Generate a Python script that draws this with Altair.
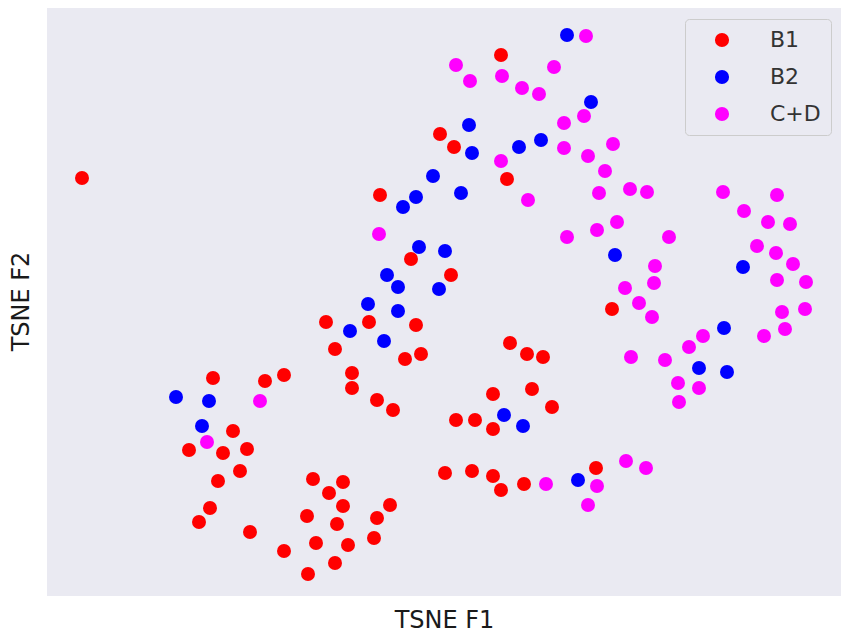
import altair as alt
import pandas as pd

# TSNE coordinates (arbitrary units)
b1_f1 = [82, 501, 440, 454, 380, 507, 411, 451, 326, 369, 416, 335, 405, 421, 510, 527, 543, 612,
         213, 265, 284, 352, 352, 377, 393, 493, 532, 552, 456, 475, 493, 233, 189, 223, 247, 240,
         218, 313, 343, 329, 343, 390, 210, 199, 307, 337, 377, 250, 316, 348, 374, 284, 335, 308,
         445, 472, 493, 501, 524, 596]
b1_f2 = [178, 55, 134, 147, 195, 179, 259, 275, 322, 322, 325, 349, 359, 354, 343, 354, 357, 309,
         378, 381, 375, 373, 388, 400, 410, 394, 389, 407, 420, 420, 429, 431, 450, 453, 449, 471,
         481, 479, 482, 493, 506, 505, 508, 522, 516, 524, 518, 532, 543, 545, 538, 551, 563, 574,
         473, 471, 476, 490, 484, 468]

b2_f1 = [567, 591, 469, 472, 519, 541, 433, 461, 416, 403, 419, 445, 387, 398, 439, 368, 398, 350,
         384, 615, 743, 724, 699, 727, 176, 209, 202, 504, 523, 578]
b2_f2 = [35, 102, 125, 153, 147, 140, 176, 193, 197, 207, 247, 251, 275, 287, 289, 304, 311, 331,
         341, 255, 267, 328, 368, 372, 397, 401, 426, 415, 426, 480]

cd_f1 = [586, 456, 470, 502, 522, 539, 554, 584, 564, 564, 613, 588, 501, 605, 528, 599, 630, 647,
         723, 777, 744, 768, 790, 617, 597, 567, 669, 757, 776, 655, 793, 625, 654, 777, 806, 639,
         652, 782, 805, 703, 764, 785, 689, 631, 665, 678, 699, 679, 379, 260, 207, 546, 597, 588,
         626, 646]
cd_f2 = [36, 65, 81, 76, 88, 94, 67, 116, 123, 148, 144, 156, 161, 171, 200, 193, 189, 192,
         192, 195, 211, 222, 224, 222, 230, 237, 237, 246, 253, 266, 264, 288, 283, 280, 282, 303,
         317, 312, 309, 336, 336, 329, 347, 357, 360, 383, 388, 402, 234, 401, 442, 484, 486, 505,
         461, 468]

groups = ["B1", "B2", "C+D"]
colors = ["#FF0000", "#0000FF", "#FF00FF"]

rows = []
for g, xs, ys in [("B1", b1_f1, b1_f2), ("B2", b2_f1, b2_f2), ("C+D", cd_f1, cd_f2)]:
    for a, b in zip(xs, ys):
        rows.append({"f1": a, "f2": 600 - b, "group": g})
df = pd.DataFrame(rows)

W, H = 794, 588

chart = alt.Chart(df).mark_circle(size=195, opacity=1).encode(
    x=alt.X("f1:Q",
            scale=alt.Scale(domain=[47, 841], nice=False, zero=False),
            axis=alt.Axis(title="TSNE F1", labels=False, ticks=False, domain=False, grid=False,
                          titleFont="DejaVu Sans", titleFontSize=24, titleFontWeight="normal",
                          titleColor="#1a1a1a", titleX=W / 2, titleY=24,
                          titleBaseline="middle", titleAlign="center")),
    y=alt.Y("f2:Q",
            scale=alt.Scale(domain=[4, 592], nice=False, zero=False),
            axis=alt.Axis(title="TSNE F2", labels=False, ticks=False, domain=False, grid=False,
                          titleFont="DejaVu Sans", titleFontSize=24, titleFontWeight="normal",
                          titleColor="#1a1a1a", titleX=-26, titleY=293, titleAngle=270,
                          titleBaseline="middle", titleAlign="center")),
    color=alt.Color("group:N",
                    scale=alt.Scale(domain=groups, range=colors),
                    legend=alt.Legend(title=None, orient="none", legendX=638, legendY=11,
                                      padding=10, fillColor="#EAEAF2", strokeColor="#cccccc",
                                      cornerRadius=4, symbolType="circle", symbolSize=200,
                                      symbolStrokeWidth=0, symbolOffset=16, labelOffset=37,
                                      rowPadding=15, labelFont="DejaVu Sans", labelFontSize=22,
                                      labelColor="#333333")),
).properties(
    width=W, height=H,
    autosize="none",
    padding={"left": 39, "top": 0, "right": 2, "bottom": 36},
    background="white",
).configure_view(fill="#EAEAF2", strokeWidth=0)

chart.save("out.html", embed_options={"renderer": "svg", "actions": False})
